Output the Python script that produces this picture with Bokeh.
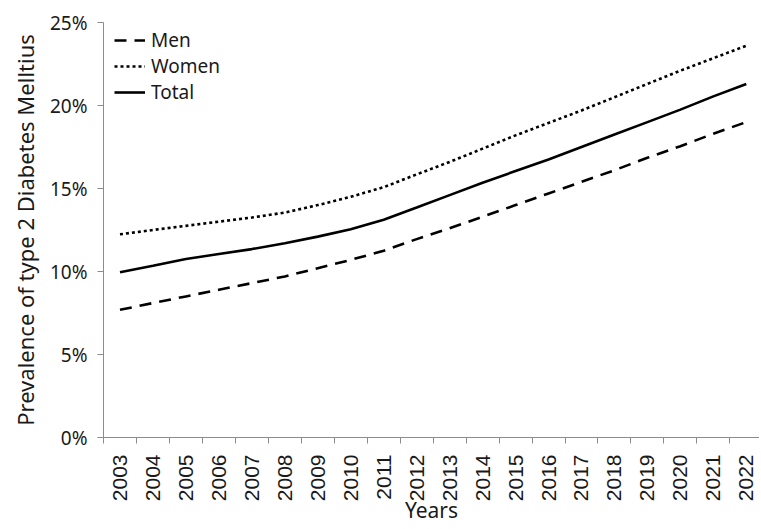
import math
from bokeh.plotting import figure
from bokeh.models import Range1d, FixedTicker, PrintfTickFormatter, Legend, LegendItem
from bokeh.embed import file_html
from bokeh.resources import INLINE

years = list(range(2003, 2023))
men = [7.69, 8.1, 8.5, 8.9, 9.3, 9.7, 10.2, 10.7, 11.25, 11.95, 12.6, 13.3, 14.0,
       14.7, 15.4, 16.1, 16.85, 17.55, 18.3, 19.0]
women = [12.24, 12.5, 12.75, 13.0, 13.25, 13.55, 14.0, 14.5, 15.08, 15.85, 16.6, 17.4, 18.2,
         18.95, 19.7, 20.5, 21.3, 22.1, 22.85, 23.6]
total = [9.96, 10.35, 10.75, 11.05, 11.35, 11.7, 12.1, 12.55, 13.12, 13.85, 14.6, 15.35, 16.05,
         16.75, 17.5, 18.25, 19.0, 19.75, 20.55, 21.3]
y_ticks = [0, 5, 10, 15, 20, 25]
series_names = ["Men", "Women", "Total"]

TEXT = "#1a1a1a"
AXIS = "#8c8c8c"
FONT = "Noto Sans"

p = figure(width=759, height=527, output_backend="svg", toolbar_location=None,
           x_range=Range1d(2002.5, 2022.4), y_range=Range1d(0, 25),
           min_border_left=103, min_border_right=0, min_border_top=22, min_border_bottom=89)
p.outline_line_color = None
p.grid.visible = False
p.background_fill_color = "white"
p.border_fill_color = "white"

r_men = p.line(years, men, line_color="black", line_width=2.6, line_dash="12 8")
r_women = p.line(years, women, line_color="black", line_width=2.6, line_dash="3 3")
r_total = p.line(years, total, line_color="black", line_width=2.6)

# x axis
xa = p.xaxis[0]
xa.ticker = FixedTicker(ticks=years, minor_ticks=[y - 0.5 for y in years] + [years[-1] + 0.5])
xa.major_tick_out = 0
xa.major_tick_in = 0
xa.minor_tick_out = 6
xa.minor_tick_in = 0
xa.minor_tick_line_color = AXIS
xa.axis_line_color = AXIS
xa.major_label_orientation = math.pi / 2
xa.major_label_text_font = "Liberation Sans"
xa.major_label_text_font_size = "21px"
xa.major_label_text_color = TEXT
xa.major_label_standoff = 11
xa.axis_label = "Years"
xa.axis_label_text_font = FONT
xa.axis_label_text_font_size = "21px"
xa.axis_label_text_font_style = "normal"
xa.axis_label_text_color = TEXT
xa.axis_label_standoff = -8

# y axis
ya = p.yaxis[0]
ya.ticker = FixedTicker(ticks=y_ticks, minor_ticks=[])
ya.formatter = PrintfTickFormatter(format="%d%%")
ya.major_tick_out = 6
ya.major_tick_in = 0
ya.major_tick_line_color = AXIS
ya.axis_line_color = AXIS
ya.major_label_text_font = FONT
ya.major_label_text_font_size = "19px"
ya.major_label_text_color = TEXT
ya.major_label_standoff = 10
ya.axis_label = "Prevalence of type 2 Diabetes Melltius"
ya.axis_label_text_font = FONT
ya.axis_label_text_font_size = "22px"
ya.axis_label_text_font_style = "normal"
ya.axis_label_text_color = TEXT
ya.axis_label_standoff = 7

legend = Legend(items=[LegendItem(label=series_names[0], renderers=[r_men]),
                       LegendItem(label=series_names[1], renderers=[r_women]),
                       LegendItem(label=series_names[2], renderers=[r_total])],
                location=(11, 332), margin=0, padding=5, spacing=0,
                glyph_width=31, glyph_height=20, label_height=20, label_standoff=6,
                label_text_font=FONT, label_text_font_size="19px", label_text_color=TEXT,
                background_fill_alpha=0, border_line_color=None)
p.add_layout(legend)

open("out.html", "w").write(file_html(p, INLINE))
